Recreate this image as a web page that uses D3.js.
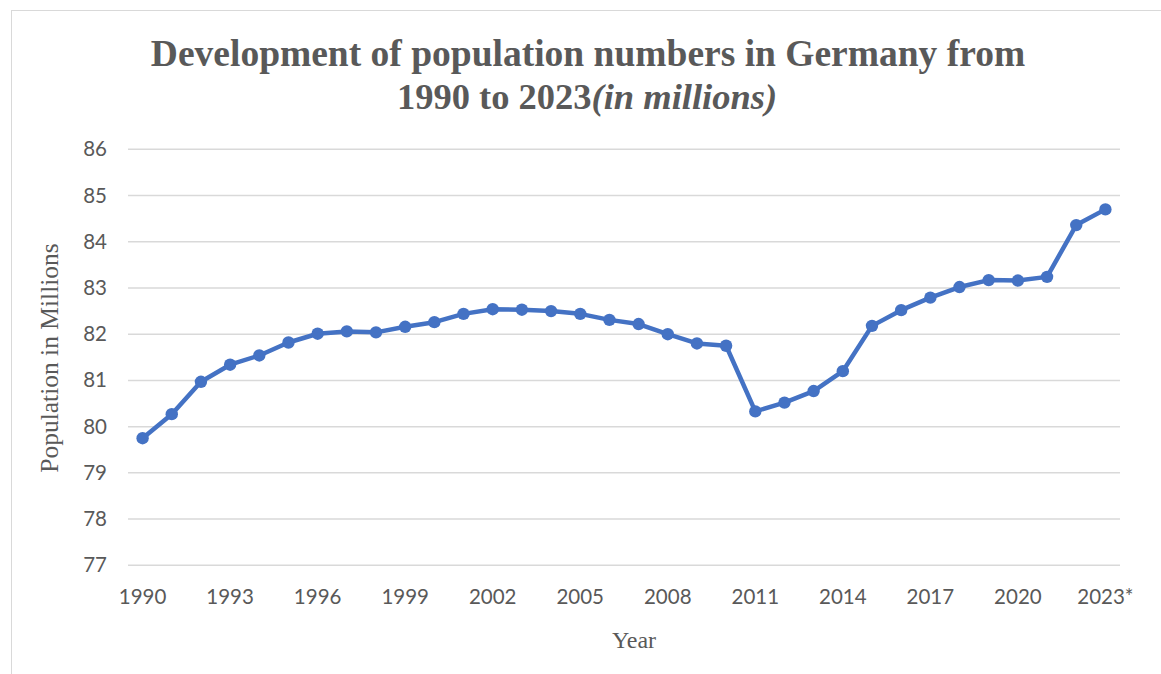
<!DOCTYPE html>
<html>
<head>
<meta charset="utf-8">
<script src="https://cdn.jsdelivr.net/npm/d3@7"></script>
<style>
  body { margin: 0; background: #fff; }
  svg { display: block; }
</style>
</head>
<body>
<svg width="1161" height="674"></svg>
<script>
const years = [1990, 1991, 1992, 1993, 1994, 1995, 1996, 1997, 1998, 1999,
  2000, 2001, 2002, 2003, 2004, 2005, 2006, 2007, 2008, 2009,
  2010, 2011, 2012, 2013, 2014, 2015, 2016, 2017, 2018, 2019,
  2020, 2021, 2022, 2023];
const population = [79.75, 80.27, 80.97, 81.34, 81.54, 81.82, 82.01, 82.06, 82.04, 82.16,
  82.26, 82.44, 82.54, 82.53, 82.50, 82.44, 82.31, 82.22, 82.00, 81.80,
  81.75, 80.33, 80.52, 80.77, 81.20, 82.18, 82.52, 82.79, 83.02, 83.17,
  83.16, 83.24, 84.36, 84.70];
const yTicks = [77, 78, 79, 80, 81, 82, 83, 84, 85, 86];
const yearLabel = y => (y === 2023 ? "2023*" : String(y));

const svg = d3.select("svg");
const plotLeft = 128, plotRight = 1120, plotTop = 149.3, plotBottom = 565.3;
const grey = "#595959";
const serif = "'Liberation Serif', 'Times New Roman', serif";
const sans = "Lato, 'Open Sans', sans-serif";

// chart frame
svg.append("rect")
  .attr("x", 11.5).attr("y", 10.5)
  .attr("width", 1200).attr("height", 700)
  .attr("fill", "none").attr("stroke", "#d9d9d9").attr("stroke-width", 1);

const x = d3.scaleBand().domain(years).range([plotLeft, plotRight]);
const y = d3.scaleLinear().domain([77, 86]).range([plotBottom, plotTop]);

// gridlines
svg.append("g")
  .selectAll("line")
  .data(yTicks)
  .join("line")
  .attr("x1", plotLeft).attr("x2", plotRight)
  .attr("y1", d => y(d)).attr("y2", d => y(d))
  .attr("stroke", "#d9d9d9").attr("stroke-width", 1.5);

// y axis
const yAxis = svg.append("g")
  .attr("transform", `translate(${plotLeft - 21},0)`)
  .call(d3.axisLeft(y).tickValues(yTicks).tickSize(0).tickPadding(0));
yAxis.select(".domain").remove();
yAxis.selectAll("text")
  .attr("fill", grey)
  .style("font-family", sans)
  .style("font-size", "20.5px");

// x axis
const xAxis = svg.append("g")
  .attr("transform", `translate(0,${plotBottom + 24})`)
  .call(d3.axisBottom(x)
    .tickValues(years.filter((d, i) => i % 3 === 0))
    .tickFormat(yearLabel)
    .tickSize(0).tickPadding(0));
xAxis.select(".domain").remove();
xAxis.selectAll("text")
  .attr("fill", grey)
  .style("font-family", sans)
  .style("font-size", "20.5px");

// line + markers
const cx = d => x(d) + x.bandwidth() / 2;
const line = d3.line()
  .x((d, i) => cx(years[i]))
  .y(d => y(d));

svg.append("path")
  .datum(population)
  .attr("d", line)
  .attr("fill", "none")
  .attr("stroke", "#4472C4")
  .attr("stroke-width", 4.5)
  .attr("stroke-linejoin", "round");

svg.append("g")
  .selectAll("circle")
  .data(population)
  .join("circle")
  .attr("cx", (d, i) => cx(years[i]))
  .attr("cy", d => y(d))
  .attr("r", 6.2)
  .attr("fill", "#4472C4");

// title
const title = svg.append("text")
  .attr("text-anchor", "middle")
  .attr("fill", grey)
  .style("font-family", serif)
  .style("font-weight", "bold");
title.append("tspan")
  .attr("x", 588).attr("y", 66)
  .style("font-size", "37.5px")
  .text("Development of population numbers in Germany from");
const line2 = svg.append("text")
  .attr("x", 587).attr("y", 109)
  .attr("text-anchor", "middle")
  .attr("fill", grey)
  .style("font-family", serif)
  .style("font-weight", "bold")
  .style("font-size", "36.5px");
line2.append("tspan").text("1990 to 2023");
line2.append("tspan").style("font-style", "italic").text("(in millions)");

// axis titles
svg.append("text")
  .attr("transform", "translate(58,358) rotate(-90)")
  .attr("text-anchor", "middle")
  .attr("fill", grey)
  .style("font-family", serif)
  .style("font-size", "25.5px")
  .text("Population in Millions");

svg.append("text")
  .attr("x", 634).attr("y", 648)
  .attr("text-anchor", "middle")
  .attr("fill", grey)
  .style("font-family", serif)
  .style("font-size", "24px")
  .text("Year");
</script>
</body>
</html>
